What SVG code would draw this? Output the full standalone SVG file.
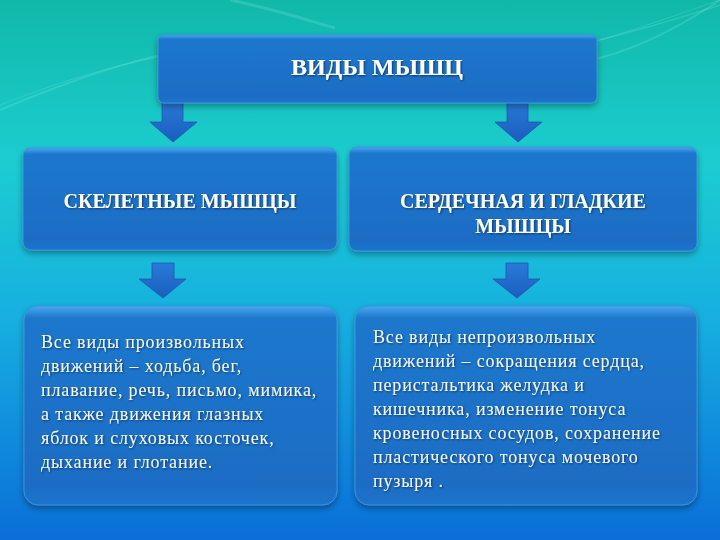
<svg xmlns="http://www.w3.org/2000/svg" width="720" height="540" viewBox="0 0 720 540">
<defs>
<linearGradient id="bg" x1="0" y1="0" x2="0" y2="1">
<stop offset="0" stop-color="#10b8a8"/>
<stop offset="0.3" stop-color="#1ccdd0"/>
<stop offset="0.6" stop-color="#16aee0"/>
<stop offset="1" stop-color="#0a6ed8"/>
</linearGradient>
<linearGradient id="box" x1="0" y1="0" x2="0" y2="1">
<stop offset="0" stop-color="#4aa8f0"/>
<stop offset="0.06" stop-color="#1f78cc"/>
<stop offset="0.9" stop-color="#1a6cc4"/>
<stop offset="1" stop-color="#1e74cc"/>
</linearGradient>
<linearGradient id="arr" x1="0" y1="0" x2="0" y2="1">
<stop offset="0" stop-color="#2a7ad8"/>
<stop offset="1" stop-color="#1a5ebe"/>
</linearGradient>
<filter id="sh" x="-10%" y="-10%" width="120%" height="130%">
<feGaussianBlur in="SourceAlpha" stdDeviation="3"/>
<feOffset dx="0" dy="3"/>
<feComponentTransfer><feFuncA type="linear" slope="0.35"/></feComponentTransfer>
<feMerge><feMergeNode/><feMergeNode in="SourceGraphic"/></feMerge>
</filter>
<filter id="ts" x="-5%" y="-20%" width="110%" height="140%">
<feGaussianBlur in="SourceAlpha" stdDeviation="0.8"/>
<feOffset dx="1" dy="1"/>
<feComponentTransfer><feFuncA type="linear" slope="0.5"/></feComponentTransfer>
<feMerge><feMergeNode/><feMergeNode in="SourceGraphic"/></feMerge>
</filter>
</defs>
<style>
.bx{fill:url(#box);stroke:#3c92e0;stroke-width:1;filter:url(#sh)}
.ar{fill:url(#arr);stroke:#1a58b0;stroke-width:0.8}
.t{font-family:"Liberation Serif","Times New Roman",serif;fill:#ffffff;filter:url(#ts)}
.h{font-weight:bold;text-anchor:middle;font-size:20px}
.b{font-size:18px;letter-spacing:0.85px;fill:#f4f6ff}
.wave{fill:none;stroke:#7ee8e0;stroke-opacity:0.25}
</style>
<rect width="720" height="540" fill="url(#bg)"/>
<g id="waves">
<path class="wave" d="M0,110 C120,60 240,20 380,50 S600,80 720,0" stroke-width="2"/>
<path class="wave" d="M0,105 C140,50 260,30 400,55" stroke-width="1"/>
<path class="wave" d="M230,0 C270,8 300,18 335,28" stroke-width="3"/>
<path class="wave" d="M580,45 C640,30 690,15 720,5" stroke-width="1.5"/>
<path class="wave" d="M600,40 C650,25 690,10 720,0" stroke-width="1"/>
</g>
<g id="connectors">
<path class="ar" d="M162,100 H183 V122 H197 L173,142 L150,122 H162 Z"/>
<path class="ar" d="M507,100 H528 V122 H542 L518,142 L495,122 H507 Z"/>
<path class="ar" d="M152,263 H174 V279 H186 L163,298 L139,279 H152 Z"/>
<path class="ar" d="M506,263 H528 V279 H540 L517,298 L493,279 H506 Z"/>
</g>
<g id="root">
<rect class="bx" x="158" y="35" width="439" height="68" rx="6"/>
<text class="t h" x="377" y="75" style="font-size:24px">ВИДЫ МЫШЦ</text>
</g>
<g id="skeletal">
<rect class="bx" x="23" y="148" width="314" height="102" rx="8"/>
<text class="t h" x="180" y="208">СКЕЛЕТНЫЕ МЫШЦЫ</text>
</g>
<g id="smooth">
<rect class="bx" x="349" y="147" width="348" height="104" rx="8"/>
<text class="t h" x="523" y="208">СЕРДЕЧНАЯ И ГЛАДКИЕ</text>
<text class="t h" x="523" y="233">МЫШЦЫ</text>
</g>
<g id="skeletal-desc">
<rect class="bx" x="24" y="306" width="313" height="199" rx="14"/>
<text class="t b" x="41" y="348">Все виды произвольных</text>
<text class="t b" x="41" y="372">движений – ходьба, бег,</text>
<text class="t b" x="41" y="396">плавание, речь, письмо, мимика,</text>
<text class="t b" x="41" y="420">а также движения глазных</text>
<text class="t b" x="41" y="444">яблок и слуховых косточек,</text>
<text class="t b" x="41" y="468">дыхание и глотание.</text>
</g>
<g id="smooth-desc">
<rect class="bx" x="355" y="306" width="342" height="199" rx="14"/>
<text class="t b" x="373" y="343">Все виды непроизвольных</text>
<text class="t b" x="373" y="367">движений – сокращения сердца,</text>
<text class="t b" x="373" y="391">перистальтика желудка и</text>
<text class="t b" x="373" y="415">кишечника, изменение тонуса</text>
<text class="t b" x="373" y="439">кровеносных сосудов, сохранение</text>
<text class="t b" x="373" y="463">пластического тонуса мочевого</text>
<text class="t b" x="373" y="487">пузыря .</text>
</g>
</svg>
